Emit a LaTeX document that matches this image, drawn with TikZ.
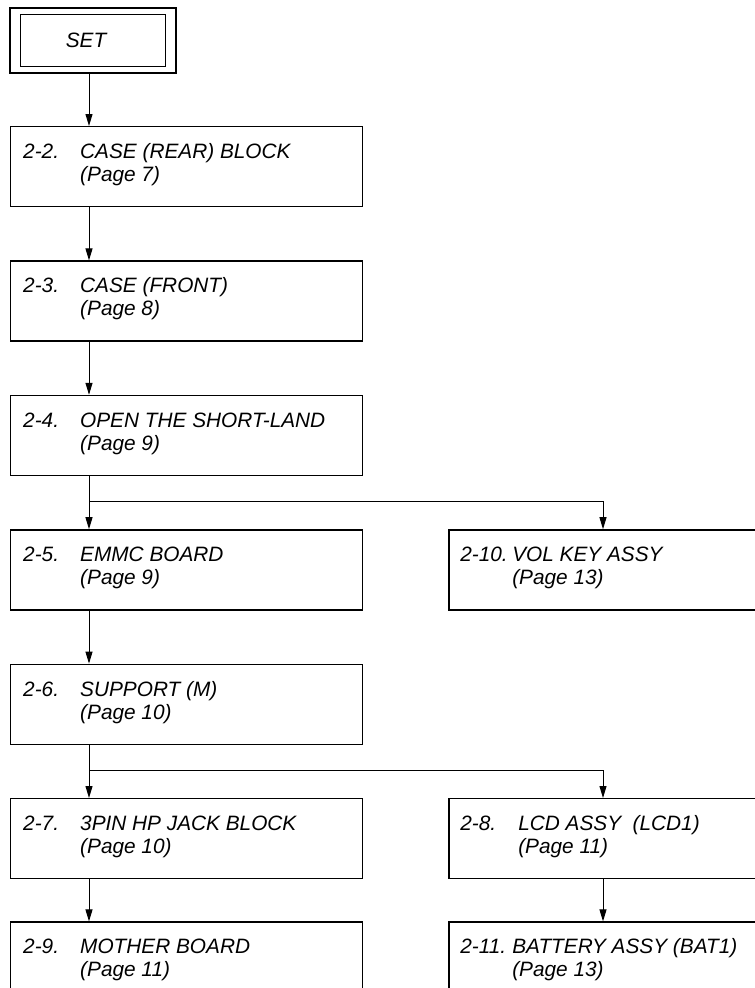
\documentclass[tikz,border=0pt]{standalone}
\usepackage{fontspec}
\setmainfont{Liberation Sans}
\usepackage{tikz}
\usetikzlibrary{positioning,arrows.meta,calc}
\tikzset{main box/.style={rectangle,draw,line width=1.4pt,minimum width=352pt,
minimum height=80pt,inner sep=0pt},
side box/.style={main box,minimum width=330pt},
step text/.style={anchor=base west,inner sep=0pt},
arr/.style={line width=1pt,-{Triangle[length=12pt,width=7pt]}}}
\newcommand{\steplines}[4][57pt]{\begin{tabular}[t]{@{}p{#1}@{}l@{}}#2&#3\\&#4\end{tabular}}

\begin{document}
\begin{tikzpicture}[x=1pt,y=1pt,font=\fontsize{20.8}{23}\selectfont\itshape]
    \useasboundingbox (0,0) rectangle (755,-988);
    \clip (0,0) rectangle (755,-988);
    \coordinate (c) at (89,0);
    \coordinate (d) at (603,0);

    \node[main box,minimum width=166pt,minimum height=65pt] (set) at (93,-40.5) {};
    \node[main box,line width=0.8pt,minimum width=145pt,minimum height=52pt] (setin) at (set.center) {};
    \node (sett) at ([xshift=-7pt]set.center) {SET};

            \node[main box,anchor=north west] (2) at (10,-126) {};
            \node[main box] (3) [below=53pt of 2] {};
            \node[main box] (4) [below=53pt of 3] {};
            \node[main box] (5) [below=53pt of 4] {};
            \node[main box] (6) [below=53pt of 5] {};
            \node[main box] (7) [below=53pt of 6] {};
            \node[main box] (9) [below=42pt of 7] {};
            \node[side box] (10) [right=84.7pt of 5] {};
            \node[side box] (8) [right=84.7pt of 7] {};
            \node[side box] (11) [right=84.7pt of 9] {};

            \node[step text] (22) at ([shift={(13pt,-32.5pt)}]2.north west) {\steplines{2-2.}{CASE (REAR) BLOCK}{(Page 7)}};
            \node[step text] (33) at ([shift={(13pt,-32.5pt)}]3.north west) {\steplines{2-3.}{CASE (FRONT)}{(Page 8)}};
            \node[step text] (44) at ([shift={(13pt,-32.5pt)}]4.north west) {\steplines{2-4.}{OPEN THE SHORT-LAND}{(Page 9)}};
            \node[step text] (55) at ([shift={(13pt,-32.5pt)}]5.north west) {\steplines{2-5.}{EMMC BOARD}{(Page 9)}};
            \node[step text] (66) at ([shift={(13pt,-32.5pt)}]6.north west) {\steplines{2-6.}{SUPPORT (M)}{(Page 10)}};
            \node[step text] (77) at ([shift={(13pt,-32.5pt)}]7.north west) {\steplines{2-7.}{3PIN HP JACK BLOCK}{(Page 10)}};
            \node[step text] (99) at ([shift={(13pt,-32.5pt)}]9.north west) {\steplines{2-9.}{MOTHER BOARD}{(Page 11)}};
            \node[step text] (1010) at ([shift={(12pt,-32.5pt)}]10.north west) {\steplines[52pt]{2-10.}{VOL KEY ASSY}{(Page 13)}};
            \node[step text] (88) at ([shift={(12pt,-32.5pt)}]8.north west) {\steplines[58pt]{2-8.}{LCD ASSY\ \ (LCD1)}{(Page 11)}};
            \node[step text] (1111) at ([shift={(12pt,-32.5pt)}]11.north west) {\steplines[52pt]{2-11.}{BATTERY ASSY (BAT1)}{(Page 13)}};

            \draw[arr] (set.south -| c) -- (2.north -| c);
            \draw[arr] (2.south -| c) -- (3.north -| c);
            \draw[arr] (3.south -| c) -- (4.north -| c);
            \draw[arr] (4.south -| c) -- (5.north -| c);
            \coordinate (br1) at ($(4.south -| c)+(0,-25)$);
            \draw[arr] (br1) -| (10.north -| d);
            \draw[arr] (5.south -| c) -- (6.north -| c);
            \draw[arr] (6.south -| c) -- (7.north -| c);
            \coordinate (br2) at ($(6.south -| c)+(0,-25)$);
            \draw[arr] (br2) -| (8.north -| d);
            \draw[arr] (7.south -| c) -- (9.north -| c);
            \draw[arr] (8.south -| d) -- (11.north -| d);

\end{tikzpicture}
\end{document}
